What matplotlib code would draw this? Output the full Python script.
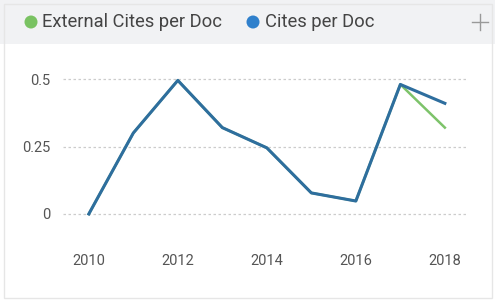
import matplotlib.pyplot as plt
from matplotlib.patches import Rectangle, Circle
from matplotlib.lines import Line2D

years = [2010, 2011, 2012, 2013, 2014, 2015, 2016, 2017, 2018]
cites_per_doc = [0.0, 0.30, 0.495, 0.32, 0.245, 0.078, 0.048, 0.48, 0.41]
external_cites = [0.0, 0.30, 0.495, 0.32, 0.245, 0.078, 0.048, 0.48, 0.32]
y_ticks = [0, 0.25, 0.5]
y_labels = ['0', '0.25', '0.5']
x_ticks = [2010, 2012, 2014, 2016, 2018]

plt.rcParams['font.family'] = ['Roboto', 'DejaVu Sans']

fig = plt.figure(figsize=(4.95, 3.01), dpi=100)
fig.patch.set_facecolor('white')

# card background: grey header strip + thin border
fig.patches.append(Rectangle((0, 1 - 44/301), 1, 44/301, transform=fig.transFigure,
                             facecolor='#f1f2f4', edgecolor='none', zorder=0))
fig.patches.append(Rectangle((4/495, 3/301), 488/495, 294/301, transform=fig.transFigure,
                             facecolor='none', edgecolor='#e6e6e6', lw=1, zorder=1))

# legend in the header (circles placed in inches so they stay round)
fig.patches.append(Circle((0.31, 2.79), 0.065, transform=fig.dpi_scale_trans,
                          facecolor='#79c262', edgecolor='none'))
fig.text(42/495, 1 - 22/301, 'External Cites per Doc', fontsize=13.2, color='#444444', va='center')
fig.patches.append(Circle((2.53, 2.79), 0.065, transform=fig.dpi_scale_trans,
                          facecolor='#2f80cc', edgecolor='none'))
fig.text(265/495, 1 - 22/301, 'Cites per Doc', fontsize=13.2, color='#444444', va='center')

# thin "+" icon at top right
fig.lines.append(Line2D([4.72, 4.88], [2.79, 2.79], transform=fig.dpi_scale_trans,
                        color='#999999', lw=1))
fig.lines.append(Line2D([4.80, 4.80], [2.71, 2.87], transform=fig.dpi_scale_trans,
                        color='#999999', lw=1))

ax = fig.add_axes([63/495, 1 - 228/301, 405/495, 163/301])
ax.set_facecolor('none')
ax.plot(years, external_cites, color='#7dc36a', lw=1.8, zorder=3)
ax.plot(years, cites_per_doc, color='#2e6e9e', lw=2.2, zorder=4)

ax.set_xlim(2009.42, 2018.52)
ax.set_ylim(-0.052, 0.552)
ax.set_yticks(y_ticks)
ax.set_yticklabels(y_labels)
ax.set_xticks(x_ticks)
ax.grid(axis='y', color='#cccccc', ls=(0, (2, 2)), lw=0.9)
ax.grid(axis='x', visible=False)
for s in ax.spines.values():
    s.set_visible(False)
ax.tick_params(axis='y', length=0, pad=9, labelsize=10.5, labelcolor='#555555')
ax.tick_params(axis='x', length=0, pad=19, labelsize=10.5, labelcolor='#555555')

fig.savefig('out.png', dpi=100)
